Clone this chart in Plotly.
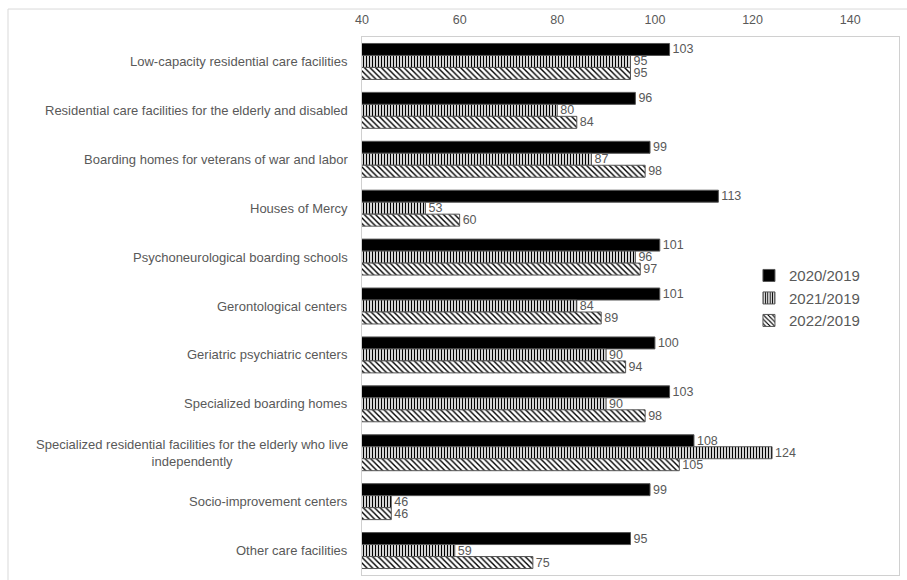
import plotly.graph_objects as go

# Categories of care facilities (top to bottom)
categories = [
    "Low-capacity residential care facilities",
    "Residential care facilities for the elderly and disabled",
    "Boarding homes for veterans of war and labor",
    "Houses of Mercy",
    "Psychoneurological boarding schools",
    "Gerontological centers",
    "Geriatric psychiatric centers",
    "Specialized boarding homes",
    "Specialized residential facilities for the elderly who live<br>independently",
    "Socio-improvement centers",
    "Other care facilities",
]

# Index values relative to 2019 (%)
ratio_2020 = [103, 96, 99, 113, 101, 101, 100, 103, 108, 99, 95]
ratio_2021 = [95, 80, 87, 53, 96, 84, 90, 90, 124, 46, 59]
ratio_2022 = [95, 84, 98, 60, 97, 89, 94, 98, 105, 46, 75]

series_names = ["2020/2019", "2021/2019", "2022/2019"]
x_ticks = [40, 60, 80, 100, 120, 140]

FONT = "Liberation Sans, Arial, sans-serif"
GREY = "#595959"

patterns = [
    dict(shape="", fillmode="replace"),
    dict(shape="|", size=3, solidity=0.45, fgcolor="black", bgcolor="white", fillmode="replace"),
    dict(shape="\\", size=4, solidity=0.35, fgcolor="black", bgcolor="white", fillmode="replace"),
]
colors = ["black", "white", "white"]

fig = go.Figure()
for name, vals, pat, col in zip(series_names, [ratio_2020, ratio_2021, ratio_2022], patterns, colors):
    fig.add_trace(go.Bar(
        y=categories,
        x=vals,
        name=name,
        orientation="h",
        marker=dict(color=col, pattern=pat, line=dict(color="#555555", width=1)),
        text=[str(v) for v in vals],
        textposition="outside",
        constraintext="none",
        cliponaxis=False,
        textfont=dict(family=FONT, size=12.5, color=GREY),
    ))

# Category labels, centred for multi-line names
for cat in categories:
    fig.add_annotation(
        x=0, xref="paper", y=cat, yref="y",
        text=cat, showarrow=False,
        xanchor="right", yanchor="middle", align="center",
        xshift=-12,
        font=dict(family=FONT, size=13, color=GREY),
    )

# Outer chart-area border
fig.add_shape(
    type="rect", xref="paper", yref="paper",
    x0=-0.6592, x1=1.1, y0=-0.1, y1=1.052,
    line=dict(color="#d9d9d9", width=1), fillcolor="rgba(0,0,0,0)", layer="below",
)

fig.update_layout(
    width=907, height=580,
    margin=dict(l=362, r=8, t=37, b=5),
    paper_bgcolor="white", plot_bgcolor="white",
    barmode="group", bargap=0.265, bargroupgap=0,
    font=dict(family=FONT, color=GREY),
    showlegend=True,
    legend=dict(
        x=0.7206, y=0.587, xanchor="left", yanchor="top",
        font=dict(family=FONT, size=15, color=GREY),
        bgcolor="rgba(0,0,0,0)", itemwidth=30, tracegroupgap=0,
    ),
    xaxis=dict(
        range=[40, 150], side="top", tickvals=x_ticks,
        showgrid=False, zeroline=False, ticks="",
        showline=True, mirror=True, linecolor="#d0d0d0", linewidth=1,
        tickfont=dict(family=FONT, size=12.5, color=GREY),
        ticklabelstandoff=7,
    ),
    yaxis=dict(
        autorange="reversed", showticklabels=False, showgrid=False,
        ticks="", showline=True, mirror=True, linecolor="#d0d0d0", linewidth=1,
    ),
)

fig.write_html("out.html")
